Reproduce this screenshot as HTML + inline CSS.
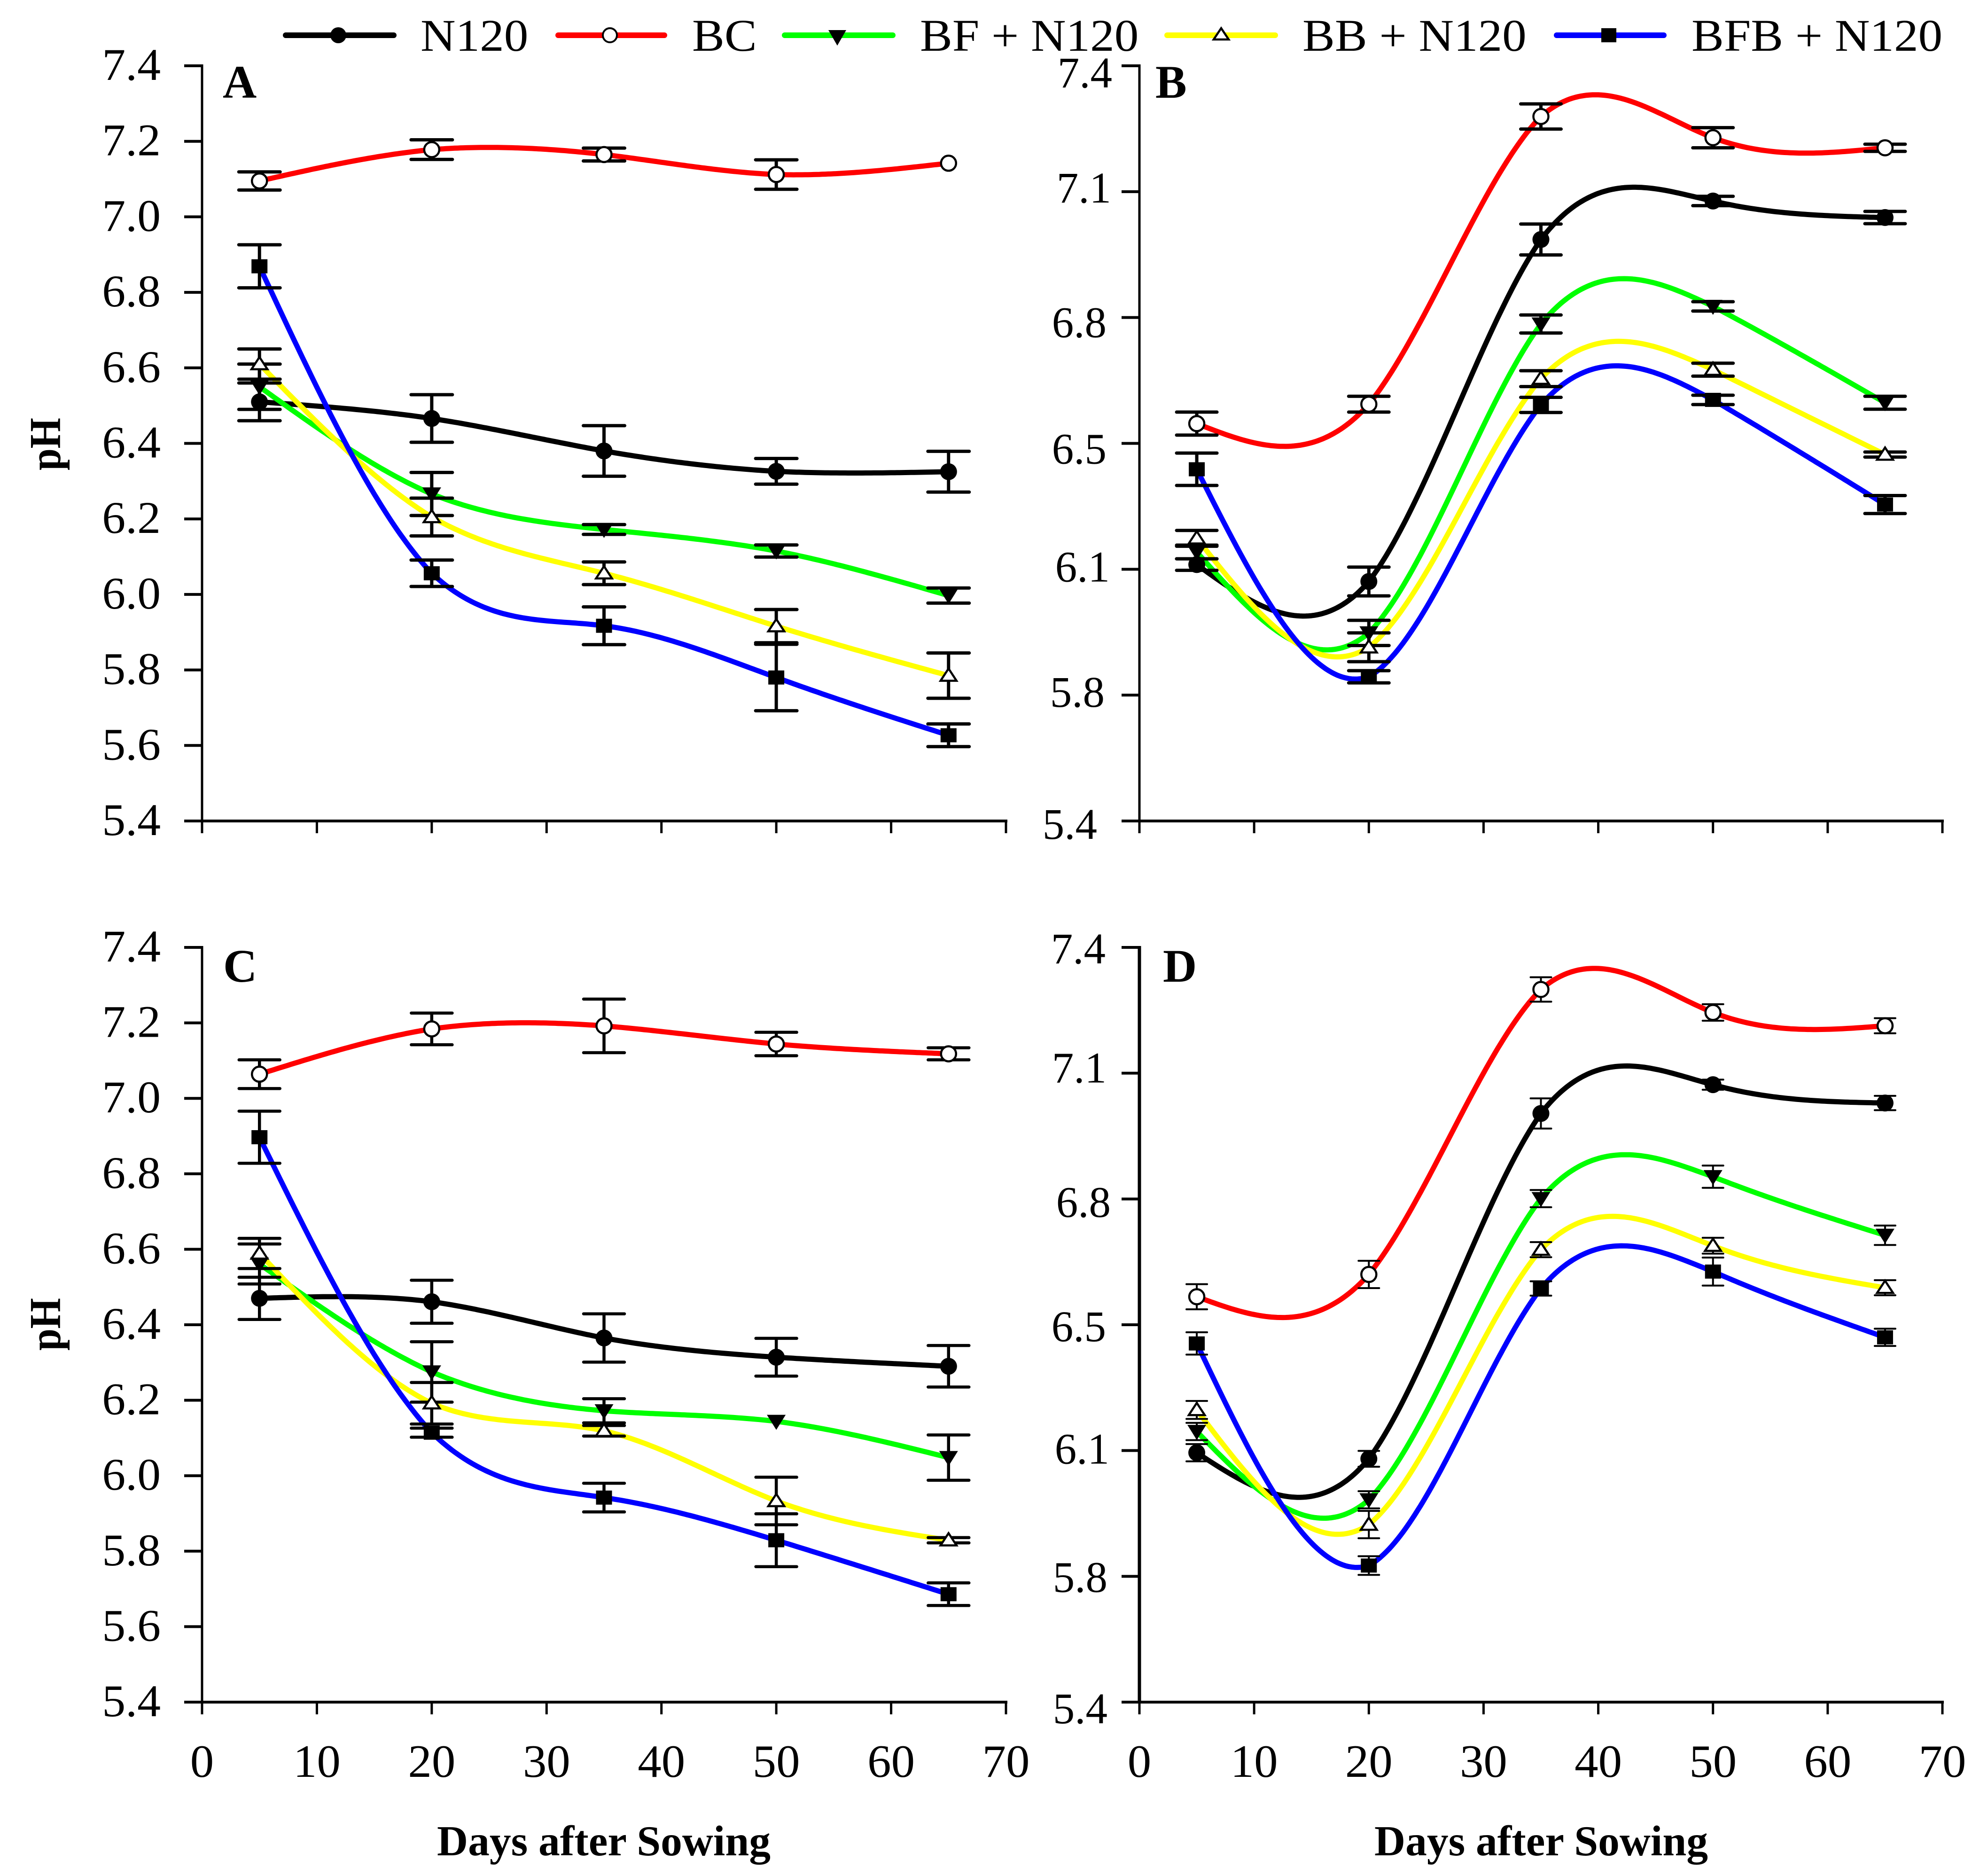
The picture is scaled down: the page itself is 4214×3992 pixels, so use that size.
<!DOCTYPE html>
<html lang="en">
<head>
<meta charset="utf-8">
<title>Soil pH after sowing</title>
<style>
  html, body { margin: 0; padding: 0; background: #fff; }
  svg { display: block; font-family: "Liberation Serif", serif; }
</style>
</head>
<body>
<svg id="chart" xmlns="http://www.w3.org/2000/svg" width="4214" height="3992" viewBox="0 0 4214 3992">
  <rect x="0" y="0" width="4214" height="3992" fill="#fff"/>
  <g id="panels"></g>

  <g font-size="96" fill="#000">
    <g>
      <line x1="608" y1="75" x2="838" y2="75" stroke="#000" stroke-width="12" stroke-linecap="round"/>
      <circle cx="720" cy="75" r="17" fill="#000"/>
      <text transform="translate(895,108) scale(1.075,1)">N120</text>
    </g>
    <g>
      <line x1="1188" y1="75" x2="1414" y2="75" stroke="#f00" stroke-width="12" stroke-linecap="round"/>
      <circle cx="1298" cy="75" r="15" fill="#fff" stroke="#000" stroke-width="4"/>
      <text transform="translate(1473,108) scale(1.075,1)">BC</text>
    </g>
    <g>
      <line x1="1670" y1="75" x2="1900" y2="75" stroke="#0f0" stroke-width="12" stroke-linecap="round"/>
      <polygon points="1763,64 1801,64 1782,97" fill="#000"/>
      <text transform="translate(1958,108) scale(1.075,1)">BF + N120</text>
    </g>
    <g>
      <line x1="2484" y1="75" x2="2714" y2="75" stroke="#ff0" stroke-width="12" stroke-linecap="round"/>
      <polygon points="2599,60 2615,84 2583,84" fill="#fff" stroke="#000" stroke-width="4.5"/>
      <text transform="translate(2772,108) scale(1.075,1)">BB + N120</text>
    </g>
    <g>
      <line x1="3313" y1="75" x2="3541" y2="75" stroke="#00f" stroke-width="12" stroke-linecap="round"/>
      <rect x="3408" y="60" width="32" height="30" fill="#000"/>
      <text transform="translate(3600,108) scale(1.075,1)">BFB + N120</text>
    </g>
  </g>

  <g font-size="100" font-weight="bold" fill="#000">
    <text x="474" y="208">A</text>
    <text x="2459" y="208">B</text>
    <text x="475" y="2089">C</text>
    <text x="2475" y="2089">D</text>
  </g>

  <g font-weight="bold" fill="#000">
    <text font-size="84" text-anchor="middle" transform="translate(128,945) rotate(-90) scale(1,1.12)">pH</text>
    <text font-size="84" text-anchor="middle" transform="translate(128,2818) rotate(-90) scale(1,1.12)">pH</text>
    <text font-size="91.5" text-anchor="middle" x="1285" y="3948">Days after Sowing</text>
    <text font-size="91.5" text-anchor="middle" x="3280" y="3948">Days after Sowing</text>
  </g>
</svg>

<script>
// Shared x values
const days = [5, 20, 35, 50, 65];

// Axis ticks
const xTicks = [0, 10, 20, 30, 40, 50, 60, 70];
const yTicksLeft = [5.4, 5.6, 5.8, 6.0, 6.2, 6.4, 6.6, 6.8, 7.0, 7.2, 7.4];
const yLabelsLeft = ['5.4', '5.6', '5.8', '6.0', '6.2', '6.4', '6.6', '6.8', '7.0', '7.2', '7.4'];
const yTicksRight = [5.4, 5.75, 6.1, 6.45, 6.8, 7.15, 7.5];
const yLabelsRight = ['5.4', '5.8', '6.1', '6.5', '6.8', '7.1', '7.4'];

// Panel A means and errors
const aN120 = [6.51, 6.466, 6.38, 6.326, 6.325];
const aN120Err = [0.05, 0.063, 0.067, 0.034, 0.054];
const aBC = [7.095, 7.178, 7.165, 7.112, 7.142];
const aBCErr = [0.024, 0.026, 0.017, 0.039, 0];
const aBF = [6.55, 6.266, 6.172, 6.115, 5.997];
const aBFErr = [0.06, 0.057, 0.013, 0.016, 0.02];
const aBB = [6.61, 6.205, 6.056, 5.916, 5.785];
const aBBErr = [0.04, 0.05, 0.03, 0.044, 0.06];
const aBFB = [6.869, 6.056, 5.917, 5.78, 5.627];
const aBFBErr = [0.057, 0.035, 0.05, 0.088, 0.03];

// Panel B means and errors
const bN120 = [6.113, 6.066, 7.017, 7.124, 7.078];
const bN120Err = [0.016, 0.04, 0.043, 0.013, 0.017];
const bBC = [6.505, 6.559, 7.359, 7.3, 7.272];
const bBCErr = [0.032, 0.022, 0.035, 0.028, 0.01];
const bBF = [6.148, 5.923, 6.782, 6.831, 6.563];
const bBFErr = [0.019, 0.035, 0.025, 0.013, 0.018];
const bBB = [6.186, 5.883, 6.63, 6.655, 6.419];
const bBBErr = [0.022, 0.04, 0.022, 0.018, 0.007];
const bBFB = [6.378, 5.801, 6.557, 6.571, 6.28];
const bBFBErr = [0.045, 0.017, 0.021, 0.013, 0.025];

// Panel C means and errors
const cN120 = [6.47, 6.461, 6.365, 6.314, 6.29];
const cN120Err = [0.056, 0.057, 0.064, 0.05, 0.055];
const cBC = [7.064, 7.184, 7.192, 7.144, 7.118];
const cBCErr = [0.038, 0.042, 0.071, 0.031, 0.016];
const cBF = [6.561, 6.275, 6.172, 6.144, 6.048];
const cBFErr = [0.053, 0.08, 0.032, 0, 0.06];
const cBB = [6.589, 6.192, 6.119, 5.933, 5.829];
const cBBErr = [0.04, 0.055, 0.014, 0.063, 0.007];
const cBFB = [6.897, 6.114, 5.942, 5.829, 5.686];
const cBFBErr = [0.069, 0.012, 0.038, 0.07, 0.03];

// Panel D means and errors
const dN120 = [6.094, 6.077, 7.038, 7.118, 7.067];
const dN120Err = [0.024, 0.022, 0.042, 0.014, 0.02];
const dBC = [6.528, 6.59, 7.383, 7.319, 7.282];
const dBCErr = [0.035, 0.038, 0.034, 0.023, 0.021];
const dBF = [6.153, 5.963, 6.801, 6.862, 6.699];
const dBFErr = [0.024, 0.024, 0.024, 0.031, 0.027];
const dBB = [6.213, 5.894, 6.659, 6.67, 6.553];
const dBBErr = [0.025, 0.038, 0.021, 0.022, 0.021];
const dBFB = [6.398, 5.78, 6.551, 6.598, 6.415];
const dBFBErr = [0.031, 0.026, 0.02, 0.039, 0.024];

const NS = 'http://www.w3.org/2000/svg';
const SPLINE_TENSION = 0.92;

function mk(tag, attrs, parent) {
  const el = document.createElementNS(NS, tag);
  for (const k in attrs) el.setAttribute(k, attrs[k]);
  parent.appendChild(el);
  return el;
}

// Natural cubic spline through the data, slightly relaxed toward the chords.
function spline(xs, ys) {
  const n = xs.length;
  const h = [], a = [0], l = [1], mu = [0], z = [0];
  for (let i = 0; i < n - 1; i++) h.push(xs[i + 1] - xs[i]);
  for (let i = 1; i < n - 1; i++) {
    a[i] = 3 / h[i] * (ys[i + 1] - ys[i]) - 3 / h[i - 1] * (ys[i] - ys[i - 1]);
    l[i] = 2 * (xs[i + 1] - xs[i - 1]) - h[i - 1] * mu[i - 1];
    mu[i] = h[i] / l[i];
    z[i] = (a[i] - h[i - 1] * z[i - 1]) / l[i];
  }
  const c = new Array(n).fill(0), b = [], d = [];
  for (let j = n - 2; j >= 0; j--) {
    c[j] = (j === 0 ? 0 : z[j]) - (j === 0 ? 0 : mu[j]) * c[j + 1];
    b[j] = (ys[j + 1] - ys[j]) / h[j] - h[j] * (c[j + 1] + 2 * c[j]) / 3;
    d[j] = (c[j + 1] - c[j]) / (3 * h[j]);
  }
  return function (x) {
    let i = 0;
    while (i < n - 2 && x > xs[i + 1]) i++;
    const t = x - xs[i];
    const curve = ys[i] + b[i] * t + c[i] * t * t + d[i] * t * t * t;
    const chord = ys[i] + (ys[i + 1] - ys[i]) * t / h[i];
    return chord + SPLINE_TENSION * (curve - chord);
  };
}

const seriesStyles = {
  n120: { color: '#000000', marker: 'circle' },
  bc: { color: '#ff0000', marker: 'open-circle' },
  bf: { color: '#00ff00', marker: 'down' },
  bb: { color: '#ffff00', marker: 'up' },
  bfb: { color: '#0000ff', marker: 'square' }
};

function drawMarker(kind, cx, cy, parent) {
  if (kind === 'circle') {
    return mk('circle', { cx: cx, cy: cy, r: 18, fill: '#000' }, parent);
  }
  if (kind === 'open-circle') {
    return mk('circle', { cx: cx, cy: cy, r: 16, fill: '#fff', stroke: '#000', 'stroke-width': 4.5 }, parent);
  }
  if (kind === 'square') {
    return mk('rect', { x: cx - 17, y: cy - 15, width: 34, height: 30, fill: '#000' }, parent);
  }
  if (kind === 'up') {
    const pts = [[cx, cy - 15], [cx + 17, cy + 11], [cx - 17, cy + 11]].map(p => p.join(',')).join(' ');
    return mk('polygon', { points: pts, fill: '#fff', stroke: '#000', 'stroke-width': 4.5 }, parent);
  }
  const ptsDown = [[cx - 20, cy - 14], [cx + 20, cy - 14], [cx, cy + 18]].map(p => p.join(',')).join(' ');
  return mk('polygon', { points: ptsDown, fill: '#000' }, parent);
}

function drawPanel(cfg) {
  const root = document.getElementById('panels');
  const g = mk('g', {}, root);
  
  

  const xScale = v => cfg.x0 + (v - 0) / 70 * (cfg.x1 - cfg.x0);
  const yScale = v => cfg.yTop + (cfg.yMax - v) / (cfg.yMax - cfg.yMin) * (cfg.yBottom - cfg.yTop);

  // Axes
  const yAxis = mk('line', { x1: cfg.x0, y1: cfg.yTop - 3, x2: cfg.x0, y2: cfg.yBottom, stroke: '#000', 'stroke-width': cfg.axisStroke }, g);
  
  
  const xAxis = mk('line', { x1: cfg.x0 - 38, y1: cfg.yBottom, x2: cfg.x1 + 3, y2: cfg.yBottom, stroke: '#000', 'stroke-width': 6 }, g);
  
  

  xTicks.forEach(function (t) {
    const tick = mk('line', { x1: xScale(t), y1: cfg.yBottom, x2: xScale(t), y2: cfg.yBottom + 26, stroke: '#000', 'stroke-width': 5 }, g);
    
    
    if (cfg.showXLabels) {
      const label = mk('text', { 'text-anchor': 'middle', 'font-size': 98, fill: '#000',
        transform: 'translate(' + xScale(t) + ',3781) scale(1.03,1)' }, g);
      label.textContent = String(t);
      
      
    }
  });

  cfg.yTicks.forEach(function (t, i) {
    const y = yScale(t);
    const tick = mk('line', { x1: cfg.x0 - 38, y1: y, x2: cfg.x0 + 2, y2: y, stroke: '#000', 'stroke-width': 6 }, g);
    
    
    const right = cfg.labelRight ? cfg.labelRight[i] : 342;
    const nudge = cfg.labelNudge ? cfg.labelNudge[i] : 0;
    const label = mk('text', { 'text-anchor': 'end', 'font-size': cfg.labelFont, fill: '#000',
      transform: 'translate(' + right + ',' + (y + 30 + nudge) + ') scale(' + cfg.labelScale + ',1)' }, g);
    label.textContent = cfg.yLabels[i];
    
    
  });

  // Series lines
  cfg.series.forEach(function (s) {
    const fn = spline(days, s.values);
    let d = '';
    for (let x = days[0]; x <= days[days.length - 1] + 1e-6; x += 0.25) {
      d += (d ? 'L' : 'M') + xScale(x).toFixed(1) + ' ' + yScale(fn(x)).toFixed(1);
    }
    const path = mk('path', { d: d, fill: 'none', stroke: seriesStyles[s.key].color, 'stroke-width': 11, 'stroke-linejoin': 'round' }, g);
    
    
  });

  // Error bars
  cfg.series.forEach(function (s) {
    s.values.forEach(function (v, i) {
      if (!s.errors[i]) return;
      const x = xScale(days[i]);
      const top = yScale(v + s.errors[i]);
      const bottom = yScale(v - s.errors[i]);
      const bar = mk('path', {
        d: 'M' + x + ' ' + top + 'V' + bottom +
           'M' + (x - cfg.capWidth / 2) + ' ' + top + 'H' + (x + cfg.capWidth / 2) +
           'M' + (x - cfg.capWidth / 2) + ' ' + bottom + 'H' + (x + cfg.capWidth / 2),
        fill: 'none', stroke: '#000', 'stroke-width': cfg.capStroke, 'stroke-linecap': 'round'
      }, g);
      
      
    });
  });

  // Markers
  cfg.series.forEach(function (s) {
    s.values.forEach(function (v, i) {
      const m = drawMarker(seriesStyles[s.key].marker, xScale(days[i]), yScale(v), g);
      
      
    });
  });
}

drawPanel({
  id: 'a', x0: 430, x1: 2141, yTop: 140, yBottom: 1747, yMin: 5.4, yMax: 7.4,
  yTicks: yTicksLeft, yLabels: yLabelsLeft, capWidth: 88, capStroke: 7, showXLabels: false,
  axisStroke: 5, labelFont: 96, labelScale: 1.04,
  series: [
    { key: 'n120', values: aN120, errors: aN120Err },
    { key: 'bc', values: aBC, errors: aBCErr },
    { key: 'bf', values: aBF, errors: aBFErr },
    { key: 'bb', values: aBB, errors: aBBErr },
    { key: 'bfb', values: aBFB, errors: aBFBErr }
  ]
});

drawPanel({
  id: 'b', x0: 2425, x1: 4134, yTop: 140, yBottom: 1747, yMin: 5.4, yMax: 7.5,
  yTicks: yTicksRight, yLabels: yLabelsRight, capWidth: 86, capStroke: 7, showXLabels: false,
  axisStroke: 5, labelFont: 93, labelScale: 1,
  labelRight: [2335, 2351, 2362, 2355, 2355, 2365, 2367],
  labelNudge: [8, -5, -4, 13, 12, -7, 16],
  series: [
    { key: 'n120', values: bN120, errors: bN120Err },
    { key: 'bc', values: bBC, errors: bBCErr },
    { key: 'bf', values: bBF, errors: bBFErr },
    { key: 'bb', values: bBB, errors: bBBErr },
    { key: 'bfb', values: bBFB, errors: bBFBErr }
  ]
});

drawPanel({
  id: 'c', x0: 430, x1: 2141, yTop: 2016, yBottom: 3622, yMin: 5.4, yMax: 7.4,
  yTicks: yTicksLeft, yLabels: yLabelsLeft, capWidth: 87, capStroke: 6.5, showXLabels: true,
  axisStroke: 5, labelFont: 96, labelScale: 1.04,
  series: [
    { key: 'n120', values: cN120, errors: cN120Err },
    { key: 'bc', values: cBC, errors: cBCErr },
    { key: 'bf', values: cBF, errors: cBFErr },
    { key: 'bb', values: cBB, errors: cBBErr },
    { key: 'bfb', values: cBFB, errors: cBFBErr }
  ]
});

drawPanel({
  id: 'd', x0: 2425, x1: 4134, yTop: 2016, yBottom: 3622, yMin: 5.4, yMax: 7.5,
  yTicks: yTicksRight, yLabels: yLabelsRight, capWidth: 44, capStroke: 4, showXLabels: true,
  axisStroke: 7, labelFont: 93, labelScale: 1,
  labelRight: [2357, 2357, 2361, 2354, 2364, 2355, 2353],
  labelNudge: [15, 3, -2, 5, 8, -10, 4],
  series: [
    { key: 'n120', values: dN120, errors: dN120Err },
    { key: 'bc', values: dBC, errors: dBCErr },
    { key: 'bf', values: dBF, errors: dBFErr },
    { key: 'bb', values: dBB, errors: dBBErr },
    { key: 'bfb', values: dBFB, errors: dBFBErr }
  ]
});
</script>
</body>
</html>
